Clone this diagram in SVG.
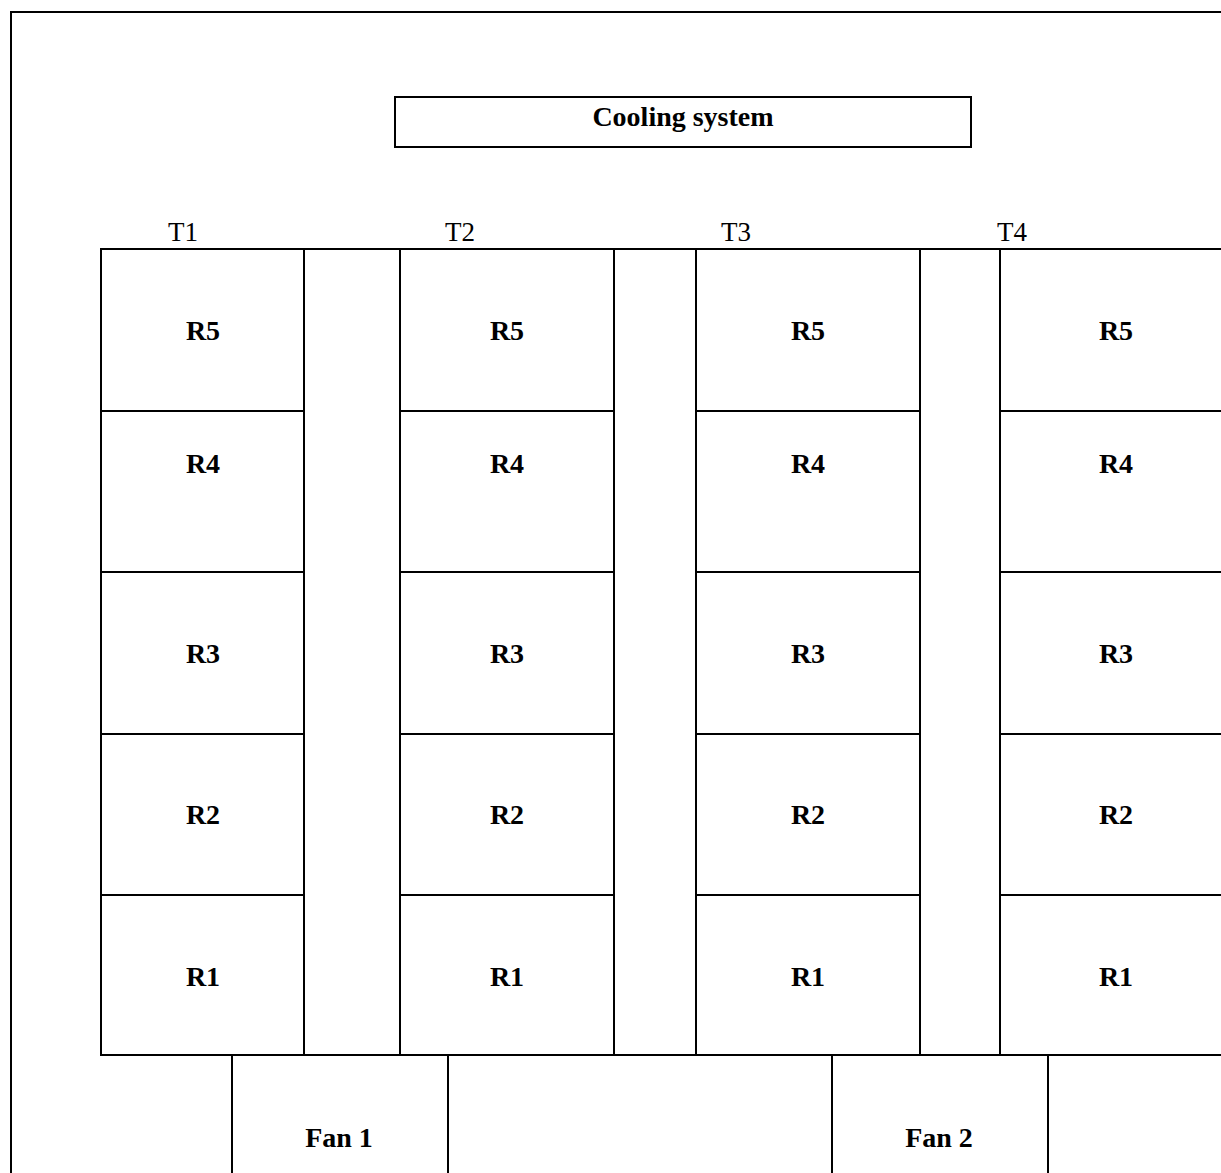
<svg xmlns="http://www.w3.org/2000/svg" width="1221" height="1173" viewBox="0 0 1221 1173">
  <style>
    .box { fill: none; stroke: #000; stroke-width: 2; }
    .ln { stroke: #000; stroke-width: 2; fill: none; }
    .lbl { font-family: "Liberation Serif", "Times New Roman", serif; font-size: 28px; font-weight: bold; text-anchor: middle; fill: #000; }
    .tl { font-family: "Liberation Serif", "Times New Roman", serif; font-size: 27px; fill: #000; }
  </style>
  <rect width="1221" height="1173" fill="#fff"/>
  <rect id="frame" class="box" x="11" y="12" width="1240" height="1200"/>

  <g id="cooling-system">
    <rect class="box" x="395" y="97" width="576" height="50"/>
    <text class="lbl" x="683" y="126">Cooling system</text>
  </g>

  <g id="tier-labels">
    <text class="tl" x="168" y="241">T1</text>
    <text class="tl" x="445" y="241">T2</text>
    <text class="tl" x="721" y="241">T3</text>
    <text class="tl" x="997" y="241">T4</text>
  </g>

  <g id="connectors">
    <line class="ln" x1="101" y1="249" x2="1230" y2="249"/>
    <line class="ln" x1="101" y1="1055" x2="1230" y2="1055"/>
  </g>

  <g id="T1">
    <g id="T1-R5"><rect class="box" x="101" y="249" width="203" height="162"/><text class="lbl" x="203" y="340">R5</text></g>
    <g id="T1-R4"><rect class="box" x="101" y="411" width="203" height="161"/><text class="lbl" x="203" y="473">R4</text></g>
    <g id="T1-R3"><rect class="box" x="101" y="572" width="203" height="162"/><text class="lbl" x="203" y="663">R3</text></g>
    <g id="T1-R2"><rect class="box" x="101" y="734" width="203" height="161"/><text class="lbl" x="203" y="824">R2</text></g>
    <g id="T1-R1"><rect class="box" x="101" y="895" width="203" height="160"/><text class="lbl" x="203" y="986">R1</text></g>
  </g>

  <g id="T2">
    <g id="T2-R5"><rect class="box" x="400" y="249" width="214" height="162"/><text class="lbl" x="507" y="340">R5</text></g>
    <g id="T2-R4"><rect class="box" x="400" y="411" width="214" height="161"/><text class="lbl" x="507" y="473">R4</text></g>
    <g id="T2-R3"><rect class="box" x="400" y="572" width="214" height="162"/><text class="lbl" x="507" y="663">R3</text></g>
    <g id="T2-R2"><rect class="box" x="400" y="734" width="214" height="161"/><text class="lbl" x="507" y="824">R2</text></g>
    <g id="T2-R1"><rect class="box" x="400" y="895" width="214" height="160"/><text class="lbl" x="507" y="986">R1</text></g>
  </g>

  <g id="T3">
    <g id="T3-R5"><rect class="box" x="696" y="249" width="224" height="162"/><text class="lbl" x="808" y="340">R5</text></g>
    <g id="T3-R4"><rect class="box" x="696" y="411" width="224" height="161"/><text class="lbl" x="808" y="473">R4</text></g>
    <g id="T3-R3"><rect class="box" x="696" y="572" width="224" height="162"/><text class="lbl" x="808" y="663">R3</text></g>
    <g id="T3-R2"><rect class="box" x="696" y="734" width="224" height="161"/><text class="lbl" x="808" y="824">R2</text></g>
    <g id="T3-R1"><rect class="box" x="696" y="895" width="224" height="160"/><text class="lbl" x="808" y="986">R1</text></g>
  </g>

  <g id="T4">
    <g id="T4-R5"><rect class="box" x="1000" y="249" width="240" height="162"/><text class="lbl" x="1116" y="340">R5</text></g>
    <g id="T4-R4"><rect class="box" x="1000" y="411" width="240" height="161"/><text class="lbl" x="1116" y="473">R4</text></g>
    <g id="T4-R3"><rect class="box" x="1000" y="572" width="240" height="162"/><text class="lbl" x="1116" y="663">R3</text></g>
    <g id="T4-R2"><rect class="box" x="1000" y="734" width="240" height="161"/><text class="lbl" x="1116" y="824">R2</text></g>
    <g id="T4-R1"><rect class="box" x="1000" y="895" width="240" height="160"/><text class="lbl" x="1116" y="986">R1</text></g>
  </g>

  <g id="fan1">
    <rect class="box" x="232" y="1055" width="216" height="140"/>
    <text class="lbl" x="339" y="1147">Fan 1</text>
  </g>
  <g id="fan2">
    <rect class="box" x="832" y="1055" width="216" height="140"/>
    <text class="lbl" x="939" y="1147">Fan 2</text>
  </g>
</svg>
